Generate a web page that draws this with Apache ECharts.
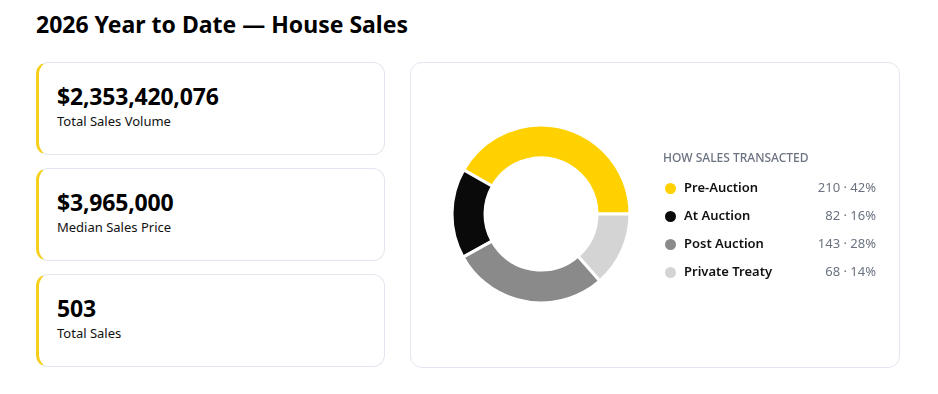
<!DOCTYPE html>
<html>
<head>
<meta charset="utf-8">
<script src="https://cdn.jsdelivr.net/npm/echarts@6/dist/echarts.min.js"></script>
<style>
  html, body { margin: 0; padding: 0; background: #fff; width: 938px; height: 394px; overflow: hidden; }
  body { font-family: "Noto Sans", "Open Sans", sans-serif; color: #000; position: relative; }
  .title { position: absolute; left: 36px; top: 9px; font-size: 23px; line-height: 30px; font-weight: 700; letter-spacing: 0px; }
  .card { position: absolute; left: 36px; width: 349px; height: 93px; box-sizing: border-box;
          border: 1px solid #e2e6ee; border-left: 3px solid #f6cf1c; border-radius: 12px; background: #fff; }
  .card .v { position: absolute; left: 18px; top: 18px; font-size: 23px; font-weight: 700; line-height: 30px; letter-spacing: -0.2px; }
  .card .l { position: absolute; left: 18px; top: 49px; font-size: 13px; line-height: 18px; color: #111; }
  .panel { position: absolute; left: 410px; top: 62px; width: 490px; height: 306px; box-sizing: border-box;
           border: 1px solid #e2e6ee; border-radius: 12px; background: #fff; }
  #chart { position: absolute; left: 0; top: 0; width: 488px; height: 304px; }
</style>
</head>
<body>
<div class="title" id="title"></div>
<div id="cards"></div>
<div class="panel"><div id="chart"></div></div>
<script>
const pageTitle = "2026 Year to Date — House Sales";
const kpiValues = ["$2,353,420,076", "$3,965,000", "503"];
const kpiLabels = ["Total Sales Volume", "Median Sales Price", "Total Sales"];
const legendTitle = "HOW SALES TRANSACTED";
const categories = ["Pre-Auction", "At Auction", "Post Auction", "Private Treaty"];
const counts = [210, 82, 143, 68];
const percents = [42, 16, 28, 14];
const colors = ["#ffd100", "#0a0a0a", "#8a8a8a", "#d4d4d4"];

document.getElementById('title').textContent = pageTitle;
const cardsEl = document.getElementById('cards');
kpiValues.forEach((v, i) => {
  const c = document.createElement('div');
  c.className = 'card';
  c.style.top = (62 + i * 106) + 'px';
  const ve = document.createElement('div'); ve.className = 'v'; ve.textContent = v;
  const le = document.createElement('div'); le.className = 'l'; le.textContent = kpiLabels[i];
  c.appendChild(ve); c.appendChild(le);
  cardsEl.appendChild(c);
});

const chart = echarts.init(document.getElementById('chart'), null, { renderer: 'canvas' });
const lookup = {};
categories.forEach((c, i) => { lookup[c] = counts[i] + ' · ' + percents[i] + '%'; });

chart.setOption({
  animation: false,
  title: {
    text: legendTitle,
    left: 252, top: 90, padding: 0,
    textStyle: { fontFamily: "Noto Sans", fontSize: 12, fontWeight: 500, color: '#6b7280' }
  },
  legend: {
    orient: 'vertical',
    left: 252, top: 118, padding: 0,
    icon: 'circle',
    itemWidth: 13, itemHeight: 13,
    itemGap: 13,
    selectedMode: false,
    data: categories,
    formatter: name => '{n|' + name + '}{v|' + lookup[name] + '}',
    textStyle: {
      rich: {
        n: { fontFamily: "Noto Sans", fontSize: 13, fontWeight: 600, color: '#111', width: 120, padding: [0, 0, 0, 2] },
        v: { fontFamily: "Noto Sans", fontSize: 13, color: '#6b7280', width: 72, align: 'right' }
      }
    }
  },
  series: [{
    type: 'pie',
    center: [130, 151],
    radius: [56, 89],
    startAngle: 0,
    clockwise: false,
    label: { show: false },
    labelLine: { show: false },
    emphasis: { disabled: true },
    itemStyle: { borderColor: '#fff', borderWidth: 3 },
    data: categories.map((c, i) => ({ name: c, value: counts[i], itemStyle: { color: colors[i] } }))
  }]
});
</script>
</body>
</html>
